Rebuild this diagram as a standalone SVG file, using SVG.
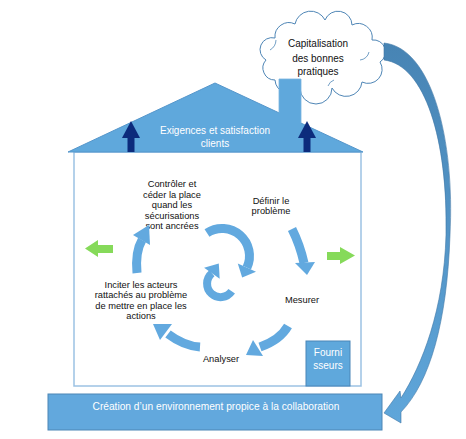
<svg xmlns="http://www.w3.org/2000/svg" width="466" height="439" viewBox="0 0 466 439">
<defs>
<style>
.t{font-family:"Liberation Sans",Arial,sans-serif;text-anchor:middle;}
.dark{fill:#111;font-size:9.3px;}
.white{fill:#fff;}
.cyc{fill:none;stroke:#62a9df;stroke-width:9;stroke-linecap:butt;}
.head{fill:#62a9df;}
.navy{fill:#0c2b7c;}
.green{fill:#86da5a;}
</style>
<linearGradient id="bg" x1="0" y1="0" x2="0" y2="1">
<stop offset="0" stop-color="#4784b4"/>
<stop offset="1" stop-color="#5fa6da"/>
</linearGradient>
</defs>
<rect x="0" y="0" width="466" height="439" fill="#fff"/>

<g id="cloud">
<path d="M275,38 A14,14 0 0 1 295,24 A16,16 0 0 1 325,20 A14,14 0 0 1 352,25 A14,14 0 0 1 372,40 A12,12 0 0 1 380,62 A14,14 0 0 1 362,82 A16,16 0 0 1 332,88 A16,16 0 0 1 300,88 A14,14 0 0 1 275,80 A12,12 0 0 1 266,60 A12,12 0 0 1 275,38 Z" fill="#fff" stroke="#4f86b6" stroke-width="1"/>
<path d="M270,50 A12,12 0 0 0 276,40 M360,60 A10,10 0 0 0 369,52 M328,86 A10,10 0 0 1 334,80" fill="none" stroke="#4f86b6" stroke-width="0.8"/>
<text class="t" x="318" y="47" font-size="10" fill="#111">Capitalisation</text>
<text class="t" x="318" y="61.5" font-size="10" fill="#111">des bonnes</text>
<text class="t" x="318" y="75" font-size="10" fill="#111">pratiques</text>
</g>

<g id="house">
<rect x="74" y="152" width="287" height="234" fill="#fff" stroke="#9cc2e3" stroke-width="1.5"/>
</g>

<g id="roof">
<polygon points="68,152 215,83 363,152" fill="#5fa8dc" stroke="#5596cb" stroke-width="1"/>
<rect x="279" y="79" width="22" height="46" fill="#5fa8dc"/>
<path d="M279,113 V79 H301 V123" fill="none" stroke="#79b4e0" stroke-width="0.8"/>
<rect class="navy" x="127.5" y="137" width="7" height="15"/>
<polygon class="navy" points="122,138 140,138 131,121"/>
<rect class="navy" x="303.5" y="137" width="7" height="15"/>
<polygon class="navy" points="298,138 316,138 307,121"/>
<text class="t white" x="215" y="134" font-size="10">Exigences et satisfaction</text>
<text class="t white" x="215" y="146.5" font-size="10">clients</text>
</g>

<g id="fournisseurs">
<rect x="306" y="341" width="44" height="45" fill="#5fa8dc" stroke="#4a86b8" stroke-width="1"/>
<text class="t white" x="328" y="356" font-size="10">Fourni</text>
<text class="t white" x="328" y="368.5" font-size="10">sseurs</text>
</g>

<g id="base">
<rect x="48" y="394" width="334" height="36" fill="#62a8dd" stroke="#4d86b5" stroke-width="1"/>
<text class="t white" x="216" y="409.5" font-size="10.2">Création d’un environnement propice à la collaboration</text>
</g>

<g id="labels">
<text class="t dark" x="172" y="187">Contrôler et</text>
<text class="t dark" x="172" y="197.5">céder la place</text>
<text class="t dark" x="172" y="208">quand les</text>
<text class="t dark" x="172" y="218.5">sécurisations</text>
<text class="t dark" x="172" y="229">sont ancrées</text>
<text class="t dark" x="271" y="203.5">Définir le</text>
<text class="t dark" x="271" y="214">problème</text>
<text class="t dark" x="302" y="302.5">Mesurer</text>
<text class="t dark" x="221" y="362">Analyser</text>
<text class="t dark" x="141" y="287.5">Inciter les acteurs</text>
<text class="t dark" x="141" y="298">rattachés au problème</text>
<text class="t dark" x="141" y="308.5">de mettre en place les</text>
<text class="t dark" x="141" y="319">actions</text>
</g>

<g id="connectors">
<path class="cyc" d="M292,229 Q300,245 304,263"/>
<polygon class="head" points="295,263 315,262 307,275"/>
<path class="cyc" d="M288,326 Q280,340 260,347"/>
<polygon class="head" points="263,356 253,340 246,355"/>
<path class="cyc" d="M200,347 Q184,346 168,334"/>
<polygon class="head" points="172,324 160,340 153,324"/>
<path class="cyc" d="M137,273 Q135,252 142,240"/>
<polygon class="head" points="150,245 133,235 149,225"/>
<path class="cyc" d="M207,232.9 A27.5,27.5 0 0 1 246.9,267.6"/>
<polygon class="head" points="256,271.8 237.8,263.4 242.2,277.6"/>
<path class="cyc" style="stroke-width:8" d="M231.7,291.3 A13.5,13.5 0 1 1 211.9,273.3"/>
<polygon class="head" points="204.1,267.8 219.7,278.7 218.8,263.5"/>
<polygon class="green" points="113,245 98,245 98,240 85,248.5 98,257 98,253 113,253"/>
<polygon class="green" points="327,252 340,252 340,247 355,255.5 340,264 340,260 327,260"/>
<path d="M384,43 C432,48 455,140 450,235 C447,322 430,382 401,412 L401,423 L384,413 L400,391 L401,398 C422,365 444,310 446,235 C448,140 425,65 384,60 Z" fill="url(#bg)" stroke="#3f77a6" stroke-width="0.6"/>
</g>
</svg>
